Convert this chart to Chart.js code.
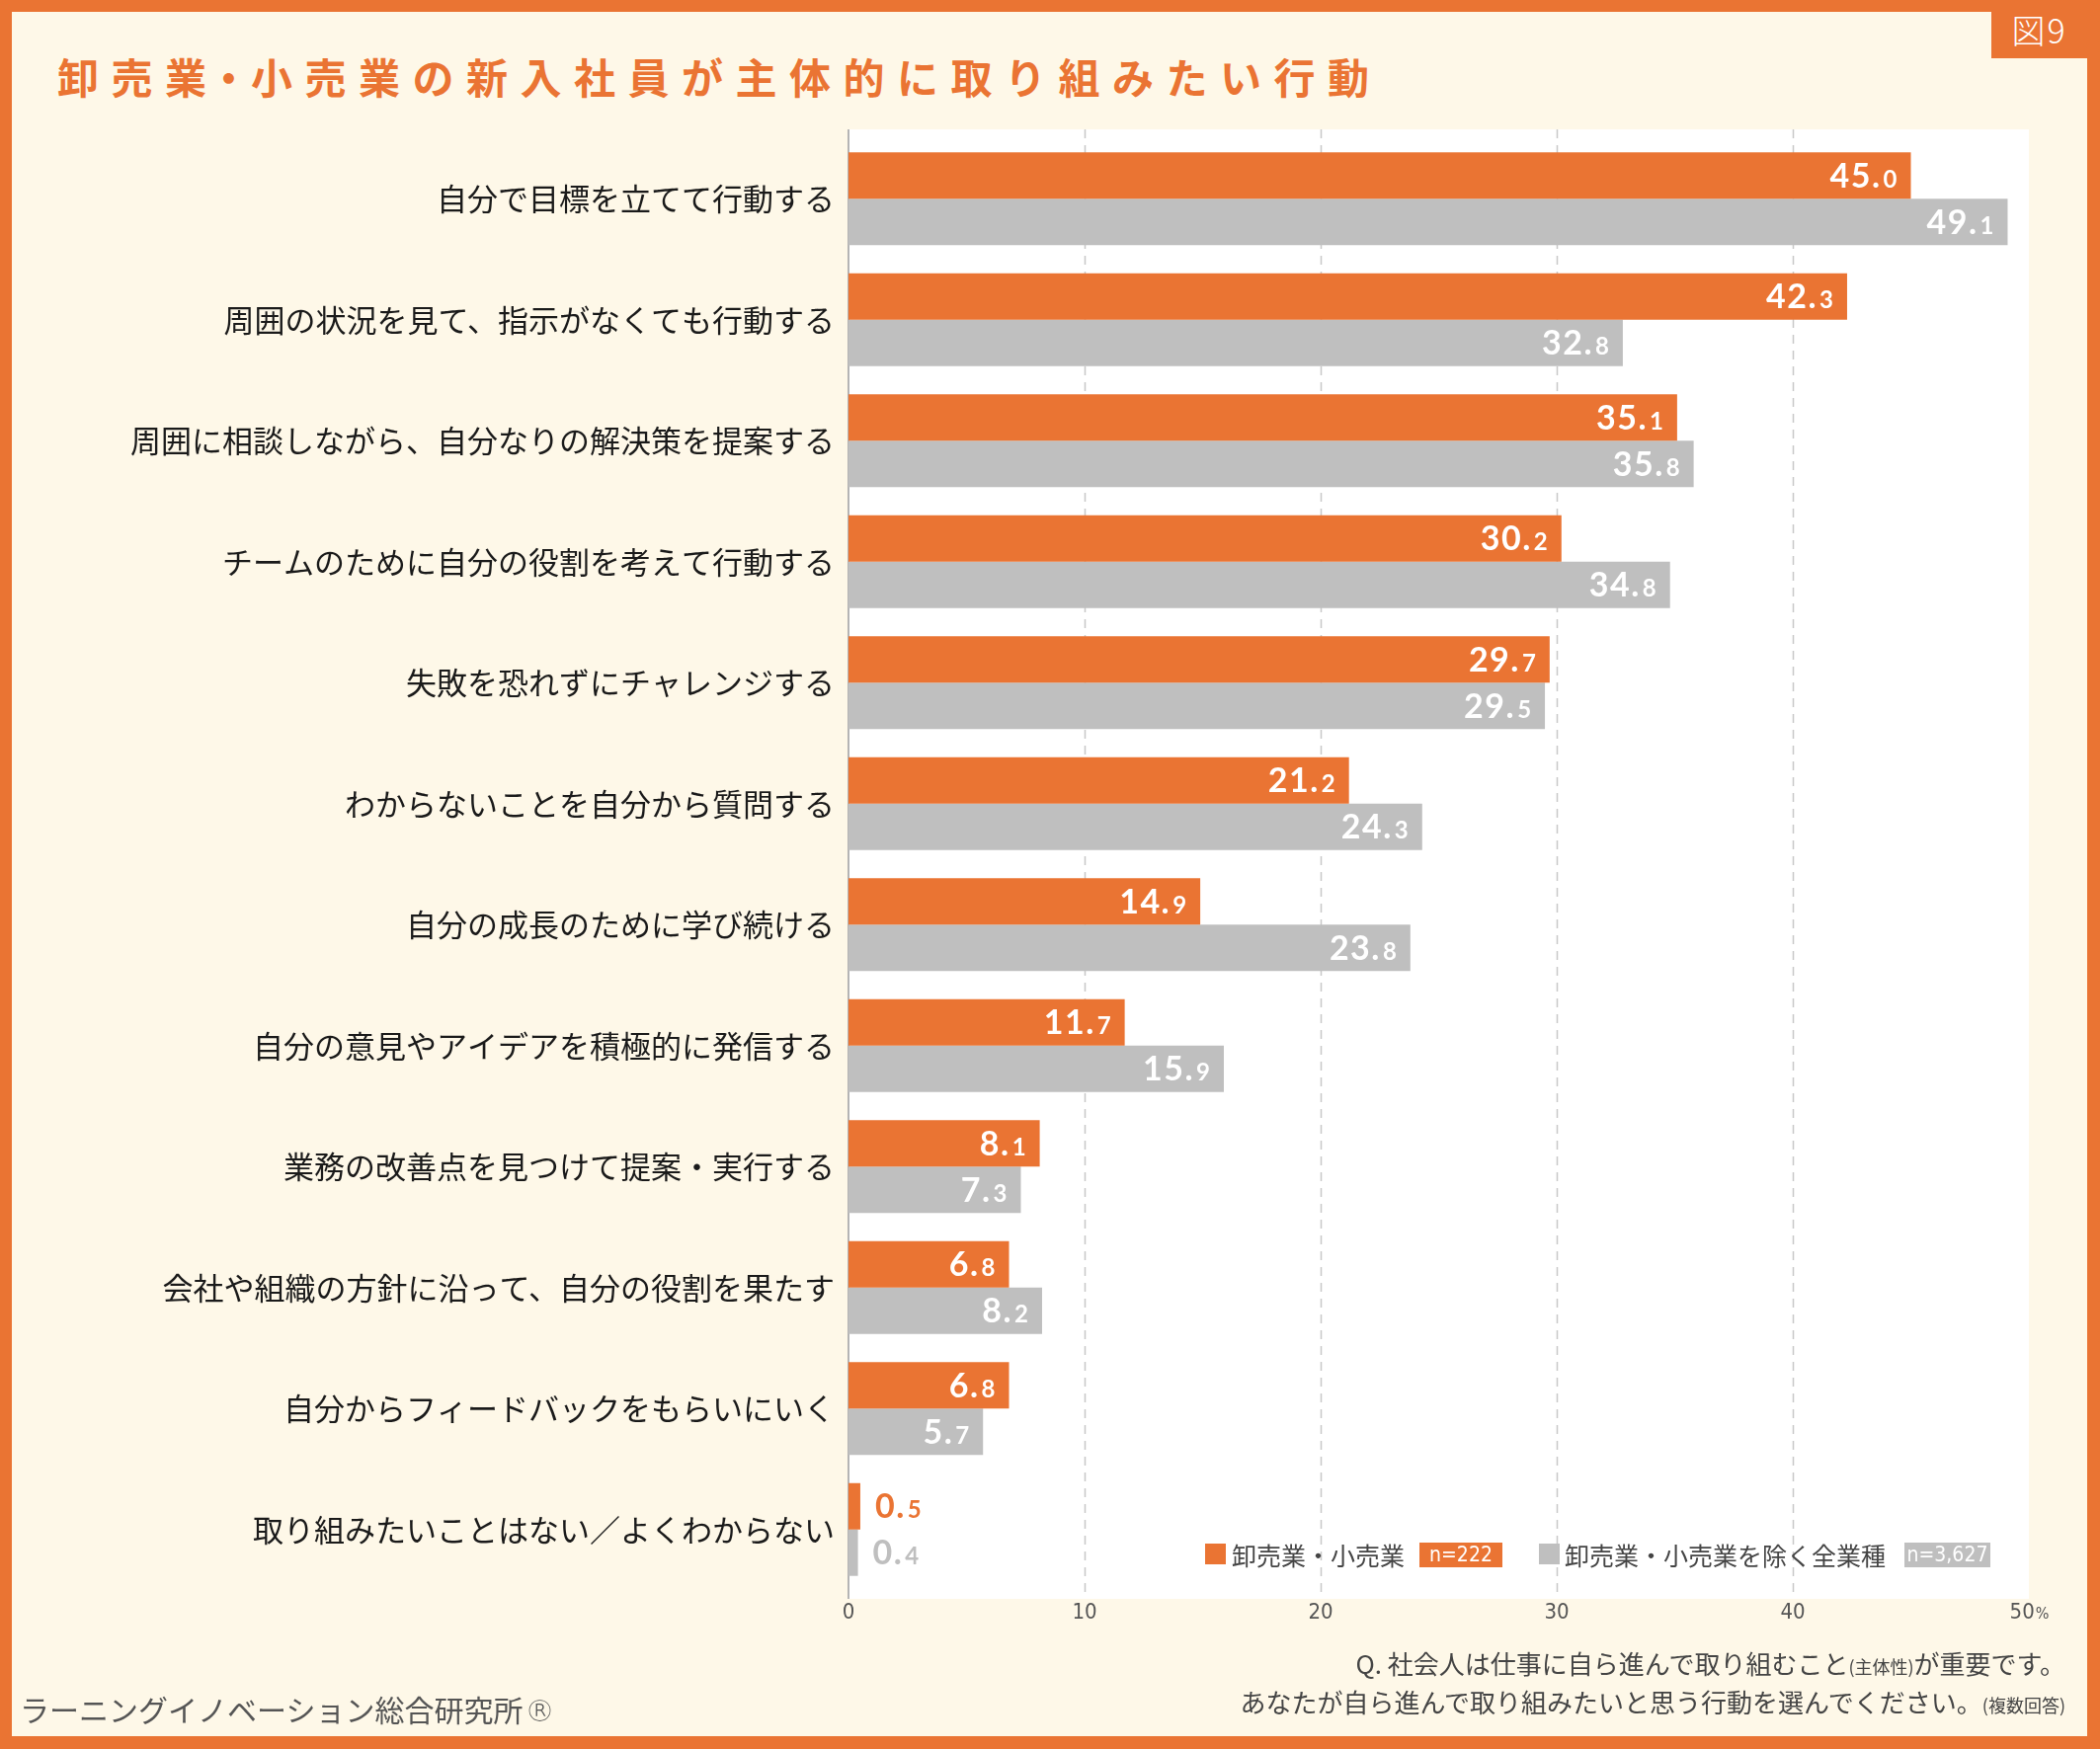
<!DOCTYPE html>
<html lang="ja">
<head>
<meta charset="utf-8">
<title>卸売業・小売業の新入社員が主体的に取り組みたい行動</title>
<script src="https://cdn.jsdelivr.net/npm/chart.js@4.4.1/dist/chart.umd.min.js"></script>
<style>
    body { margin: 0; background: #EA7433; }
    #page { position: relative; width: 2126px; height: 1771px; background: #EA7433; overflow: hidden; font-family: "Noto Sans CJK JP", sans-serif; }
    #inner { position: absolute; left: 12px; top: 12px; width: 2101px; height: 1746px; background: #FEF8E8; }
    #tag { position: absolute; left: 2016px; top: 0; width: 97px; height: 59px; background: #EA7433; color: #fff; font-size: 34px; line-height: 59px; text-align: center; font-weight: 300; letter-spacing: 2px; }
    #title { position: absolute; left: 58px; top: 48px; font-size: 42px; line-height: 58px; font-weight: 700; color: #EA7433; letter-spacing: 12.5px; white-space: nowrap; }
    #title .dot { letter-spacing: 0; margin-left: -11px; margin-right: 1.5px; }
    #chartBox { position: absolute; left: 0; top: 0; width: 2126px; height: 1771px; }
    .sq { position: absolute; width: 21px; height: 21px; }
    .ltxt { position: absolute; top: 1559px; font-size: 25px; line-height: 30px; color: #444; white-space: nowrap; }
    .nbox { position: absolute; top: 1562px; height: 25px; line-height: 25px; color: #fff; font-size: 21px; text-align: center; font-family: "DejaVu Sans Condensed", sans-serif; }
    #foot { position: absolute; right: 35px; top: 1666px; text-align: right; color: #444; font-size: 26px; line-height: 36px; white-space: nowrap; }
    #foot small { font-size: 18px; }
    #brand { position: absolute; left: 20px; top: 1710px; font-size: 30px; line-height: 40px; color: #555; white-space: nowrap; }
    #brand span { font-family: "DejaVu Sans", sans-serif; font-weight: 200; font-size: 30px; margin-left: 2px; }
</style>
</head>
<body>
<div id="page">
    <div id="inner"></div>
    <div id="tag">図9</div>
    <div id="title">卸売業<span class="dot">・</span>小売業の新入社員が主体的に取り組みたい行動</div>
    <div id="chartBox"><canvas id="actionChart"></canvas></div>

    <div class="sq" style="left:1220px; top:1563px; background:#EA7433;"></div>
    <div class="ltxt" style="left:1247px;">卸売業・小売業</div>
    <div class="nbox" style="left:1437px; width:84px; background:#EA7433;">n=222</div>
    <div class="sq" style="left:1558px; top:1563px; background:#BFBFBF;"></div>
    <div class="ltxt" style="left:1584px;">卸売業・小売業を除く全業種</div>
    <div class="nbox" style="left:1928px; width:87px; background:#BFBFBF;">n=3,627</div>

    <div id="foot">Q. 社会人は仕事に自ら進んで取り組むこと<small>(主体性)</small>が重要です。<br>あなたが自ら進んで取り組みたいと思う行動を選んでください。<small>(複数回答)</small></div>
    <div id="brand">ラーニングイノベーション総合研究所<span>®</span></div>
</div>

<script>
//--------------------------------------------------------------------------------------//
//--------------------------------------- Data -----------------------------------------//
//--------------------------------------------------------------------------------------//
var actionLabels = [
    '自分で目標を立てて行動する',
    '周囲の状況を見て、指示がなくても行動する',
    '周囲に相談しながら、自分なりの解決策を提案する',
    'チームのために自分の役割を考えて行動する',
    '失敗を恐れずにチャレンジする',
    'わからないことを自分から質問する',
    '自分の成長のために学び続ける',
    '自分の意見やアイデアを積極的に発信する',
    '業務の改善点を見つけて提案・実行する',
    '会社や組織の方針に沿って、自分の役割を果たす',
    '自分からフィードバックをもらいにいく',
    '取り組みたいことはない／よくわからない'
];
var retailValues = [45.0, 42.3, 35.1, 30.2, 29.7, 21.2, 14.9, 11.7, 8.1, 6.8, 6.8, 0.5];
var otherValues = [49.1, 32.8, 35.8, 34.8, 29.5, 24.3, 23.8, 15.9, 7.3, 8.2, 5.7, 0.4];
var xTicks = [0, 10, 20, 30, 40, 50];

var ORANGE = '#EA7433';
var GRAY = '#BFBFBF';

//--------------------------------------------------------------------------------------//
//-------------------------------------- Plugins ---------------------------------------//
//--------------------------------------------------------------------------------------//
// white plot background + dashed grid + axis tick labels
var plotBackground = {
    id: 'plotBackground',
    beforeDatasetsDraw: function (chart) {
        var ctx = chart.ctx;
        var a = chart.chartArea;
        var xs = chart.scales.x;
        ctx.save();
        ctx.fillStyle = '#FFFFFF';
        ctx.fillRect(a.left, a.top - 9, a.right - a.left, a.bottom - a.top + 18);

        ctx.strokeStyle = '#C8C8C8';
        ctx.lineWidth = 1.5;
        ctx.setLineDash([9, 7]);
        for (var i = 1; i < xTicks.length - 1; i++) {
            var gx = Math.round(xs.getPixelForValue(xTicks[i])) + 0.5;
            ctx.beginPath();
            ctx.moveTo(gx, a.top - 9);
            ctx.lineTo(gx, a.bottom + 9);
            ctx.stroke();
        }
        ctx.setLineDash([]);
        ctx.strokeStyle = '#B4B4B4';
        ctx.lineWidth = 2;
        var zx = xs.getPixelForValue(0);
        ctx.beginPath();
        ctx.moveTo(zx, a.top - 9);
        ctx.lineTo(zx, a.bottom + 9);
        ctx.stroke();

        // tick labels
        ctx.fillStyle = '#555';
        ctx.textBaseline = 'middle';
        for (var j = 0; j < xTicks.length; j++) {
            var tx = xs.getPixelForValue(xTicks[j]);
            var num = String(xTicks[j]);
            ctx.font = '300 22px "DejaVu Sans Condensed"';
            var wNum = ctx.measureText(num).width;
            if (j == xTicks.length - 1) {
                ctx.font = '300 16px "DejaVu Sans Condensed"';
                var wPct = ctx.measureText('%').width;
                var sx = tx - (wNum + wPct) / 2;
                ctx.textAlign = 'left';
                ctx.font = '300 22px "DejaVu Sans Condensed"';
                ctx.fillText(num, sx, a.bottom + 23);
                ctx.font = '300 16px "DejaVu Sans Condensed"';
                ctx.fillText('%', sx + wNum + 1, a.bottom + 25);
            } else {
                ctx.textAlign = 'center';
                ctx.fillText(num, tx, a.bottom + 23);
            }
        }
        ctx.restore();
    }
};

// value labels, decimal part smaller
function drawValue(ctx, value, x, y, align, color) {
    var parts = value.toFixed(1).split('.');
    var big = parts[0] + '.';
    var small = parts[1];
    ctx.letterSpacing = '1.5px';
    ctx.font = 'bold 34px Lato';
    var wBig = ctx.measureText(big).width + 2;
    ctx.font = 'bold 24px Lato';
    var wSmall = ctx.measureText(small).width - 1.5;
    var start = align == 'right' ? x - wBig - wSmall : x;
    ctx.fillStyle = color;
    ctx.textAlign = 'left';
    ctx.textBaseline = 'alphabetic';
    ctx.font = 'bold 34px Lato';
    ctx.fillText(big, start, y + 12);
    ctx.font = 'bold 24px Lato';
    ctx.fillText(small, start + wBig, y + 12);
    ctx.letterSpacing = '0px';
}

var valueLabels = {
    id: 'valueLabels',
    afterDatasetsDraw: function (chart) {
        var ctx = chart.ctx;
        ctx.save();
        chart.data.datasets.forEach(function (ds, di) {
            var meta = chart.getDatasetMeta(di);
            meta.data.forEach(function (bar, i) {
                var v = ds.data[i];
                if (v < 3) {
                    drawValue(ctx, v, bar.x + 15, bar.y, 'left', ds.backgroundColor);
                } else {
                    drawValue(ctx, v, bar.x - 14, bar.y, 'right', '#FFFFFF');
                }
            });
        });
        ctx.restore();
    }
};

//--------------------------------------------------------------------------------------//
//--------------------------------------- Chart ----------------------------------------//
//--------------------------------------------------------------------------------------//
var chartData = {
    labels: actionLabels,
    datasets: [{
        label: '卸売業・小売業',
        data: retailValues,
        backgroundColor: ORANGE,
        borderWidth: 0,
        categoryPercentage: 0.767,
        barPercentage: 1.0
    }, {
        label: '卸売業・小売業を除く全業種',
        data: otherValues,
        backgroundColor: GRAY,
        borderWidth: 0,
        categoryPercentage: 0.767,
        barPercentage: 1.0
    }]
};

var chartConfig = {
    type: 'bar',
    data: chartData,
    options: {
        indexAxis: 'y',
        responsive: true,
        maintainAspectRatio: false,
        animation: false,
        devicePixelRatio: 1,
        layout: {
            padding: { top: 140, right: 72, bottom: 161, left: 0 }
        },
        scales: {
            x: {
                display: false,
                min: 0,
                max: 50
            },
            y: {
                grid: { display: false, drawTicks: false },
                border: { display: false },
                ticks: {
                    padding: 14,
                    color: '#1a1a1a',
                    font: { family: '"Noto Sans CJK JP"', size: 31 }
                },
                afterFit: function (scale) {
                    scale.width = 859;
                }
            }
        },
        plugins: {
            legend: { display: false },
            tooltip: { enabled: false }
        }
    },
    plugins: [plotBackground, valueLabels]
};

var actionChart = new Chart(
    document.getElementById('actionChart'),
    chartConfig
);
</script>
</body>
</html>
